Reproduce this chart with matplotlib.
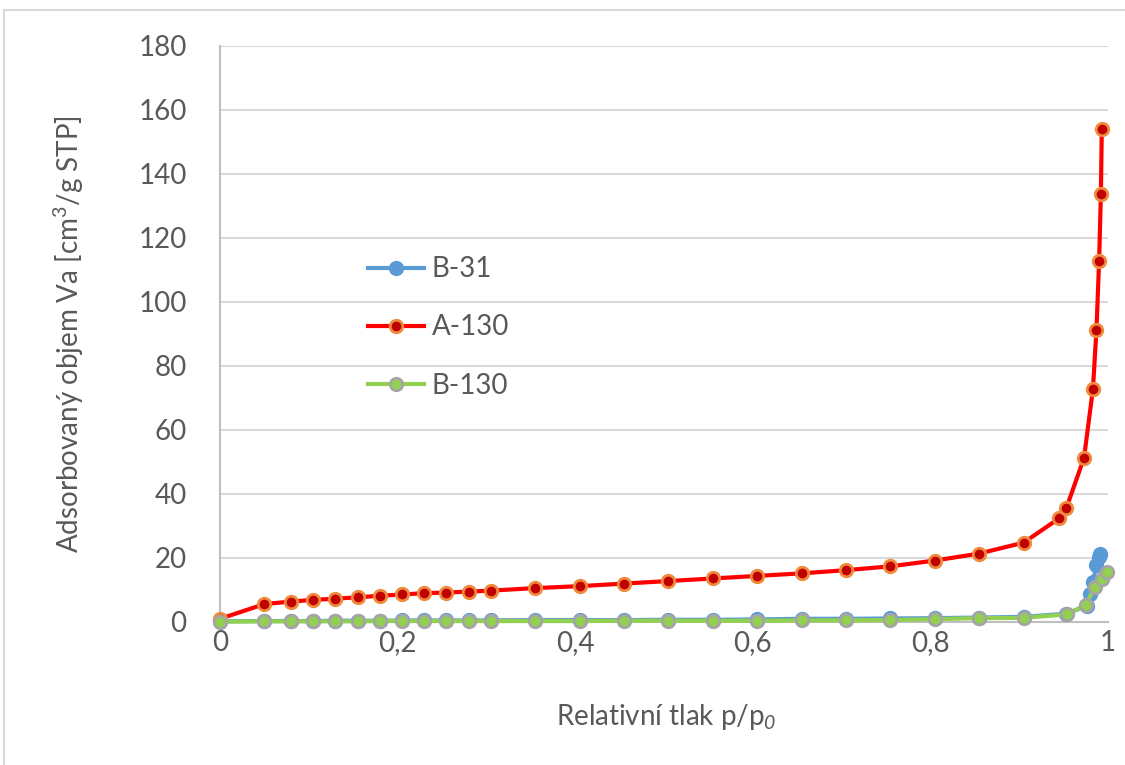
import numpy as np
import matplotlib.pyplot as plt
from matplotlib.patches import Rectangle

plt.rcParams['font.family'] = ['Lato', 'DejaVu Sans']
plt.rcParams['mathtext.fontset'] = 'custom'
plt.rcParams['mathtext.rm'] = 'Lato'
# italic digits for the p0 subscript (mathtext 'it' keeps digits upright)
plt.rcParams['mathtext.sf'] = 'Lato:italic'

# relative pressure grid shared by the low-pressure part of all isotherms
p_low = [0.0, 0.05, 0.08, 0.105, 0.13, 0.155, 0.18, 0.205, 0.23, 0.255, 0.28,
         0.305, 0.355, 0.405, 0.455, 0.505, 0.555, 0.605, 0.655, 0.705, 0.755,
         0.805, 0.855, 0.905]

a130_x = p_low + [0.945, 0.953, 0.973, 0.983, 0.987, 0.990, 0.992, 0.993]
a130_y = [1.0, 5.6, 6.4, 6.9, 7.3, 7.7, 8.2, 8.6, 9.0, 9.2, 9.5,
          9.8, 10.6, 11.2, 12.0, 12.8, 13.6, 14.4, 15.2, 16.2, 17.4,
          19.2, 21.4, 24.8, 32.4, 35.5, 51.3, 72.7, 91.2, 112.8, 133.8, 154.0]

b31_x = p_low + [0.953, 0.976, 0.980, 0.983, 0.987, 0.990, 0.991]
b31_y = [0.2, 0.3, 0.3, 0.3, 0.4, 0.4, 0.4, 0.5, 0.5, 0.5, 0.5,
         0.5, 0.6, 0.6, 0.6, 0.7, 0.7, 0.8, 1.0, 1.0, 1.1,
         1.2, 1.4, 1.6, 2.6, 5.0, 8.6, 12.5, 17.8, 20.2, 21.2]

b130_x = p_low + [0.954, 0.975, 0.985, 0.993, 0.999]
b130_y = [0.1, 0.2, 0.2, 0.2, 0.2, 0.2, 0.3, 0.3, 0.3, 0.3, 0.3,
          0.3, 0.3, 0.3, 0.4, 0.4, 0.4, 0.4, 0.5, 0.5, 0.6,
          0.9, 1.2, 1.3, 2.4, 5.4, 10.8, 13.3, 15.6]

series = [
    ('B-31', b31_x, b31_y, '#5B9BD5', '#5B9BD5', '#5B9BD5'),
    ('A-130', a130_x, a130_y, '#FF0000', '#C00000', '#F08A3C'),
    ('B-130', b130_x, b130_y, '#92D050', '#92D050', '#A5A5A5'),
]

yticks = np.arange(0, 181, 20)
xticks = [0, 0.2, 0.4, 0.6, 0.8, 1.0]
xticklabels = ['0', '0,2', '0,4', '0,6', '0,8', '1']

FS = 20
GREY = '#595959'

fig = plt.figure(figsize=(11.25, 7.65), dpi=100)
ax = fig.add_axes([220 / 1125, 1 - 622 / 765, 888 / 1125, 576 / 765])

# chart frame
fig.patches.append(Rectangle((4 / 1125, -0.02), 1.1, 1 - 10 / 765 + 0.02,
                             transform=fig.transFigure, fill=False,
                             edgecolor='#D9D9D9', lw=1.5))

for i in [2, 0, 1]:
    name, x, y, lc, fc, ec = series[i]
    ax.plot(x, y, color=lc, lw=3, marker='o', ms=9, mfc=fc, mec=ec,
            mew=2, label=name, zorder=3 + i, clip_on=False)

ax.set_xlim(0, 1)
ax.set_ylim(0, 180)
ax.set_yticks(yticks)
ax.set_xticks(xticks)
ax.set_xticklabels(xticklabels)
ax.tick_params(length=0, labelsize=FS, colors=GREY)
ax.tick_params(axis='y', pad=24)
ax.tick_params(axis='x', pad=6)
ax.grid(axis='y', color='#D9D9D9', lw=1.5)
ax.set_axisbelow(True)
for s in ['top', 'right']:
    ax.spines[s].set_visible(False)
for s in ['left', 'bottom']:
    ax.spines[s].set_color('#BFBFBF')
    ax.spines[s].set_linewidth(1.5)

ax.set_xlabel(r'Relativní tlak p/p$_{\mathsf{0}}$', fontsize=FS, color=GREY)
ax.set_ylabel(r'Adsorbovaný objem Va [cm$^{3}$/g STP]', fontsize=FS, color=GREY)
ax.xaxis.set_label_coords(0.502, -0.165)
ax.xaxis.label.set_va('center')
ax.yaxis.set_label_coords(-0.171, 0.5)
ax.yaxis.label.set_va('center')

handles, labels = ax.get_legend_handles_labels()
idx = [labels.index(n) for n in ['B-31', 'A-130', 'B-130']]
ax.legend([handles[k] for k in idx], [labels[k] for k in idx],
          loc='upper left', bbox_to_anchor=(0.1667, 0.635), frameon=False,
          fontsize=FS, labelcolor=GREY, handlelength=2.0,
          labelspacing=1.16, handletextpad=0.3, borderpad=0, borderaxespad=0)

fig.savefig('out.png', dpi=100)
